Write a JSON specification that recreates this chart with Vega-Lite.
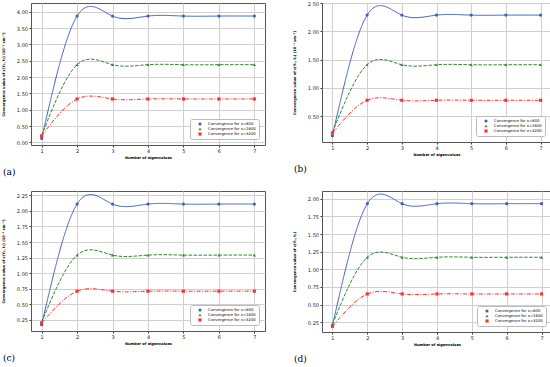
{
  "$schema": "https://vega.github.io/schema/vega-lite/v6.json",
  "padding": 0,
  "background": "white",
  "config": {
    "view": {"stroke": "#555555", "strokeWidth": 1},
    "font": "DejaVu Sans",
    "axis": {"labelFontSize": 5, "titleFontSize": 3.6, "titleFontWeight": "bold", "gridColor": "#d0d0d0", "gridWidth": 1, "domain": false, "tickSize": 2, "tickColor": "#333333", "labelColor": "#222222", "titleColor": "#000000", "labelPadding": 1.5, "titlePadding": 2},
    "legend": {"orient": "bottom-right", "offset": 6, "labelFontSize": 3.8, "symbolSize": 10, "strokeColor": "#bbbbbb", "fillColor": "white", "padding": 3, "rowPadding": 1, "cornerRadius": 2, "labelOffset": 6, "symbolOffset": 5, "symbolStrokeWidth": 0},
    "title": {"font": "DejaVu Serif", "fontSize": 9, "fontWeight": "normal", "orient": "bottom", "anchor": "start", "color": "#000000", "offset": 9}
  },
  "datasets": {
    "d": [
      {"p":"a","s":"Convergence for x=800","n":1,"v":0.12},{"p":"a","s":"Convergence for x=800","n":2,"v":3.87},{"p":"a","s":"Convergence for x=800","n":3,"v":3.87},{"p":"a","s":"Convergence for x=800","n":4,"v":3.87},{"p":"a","s":"Convergence for x=800","n":5,"v":3.87},{"p":"a","s":"Convergence for x=800","n":6,"v":3.87},{"p":"a","s":"Convergence for x=800","n":7,"v":3.87},
      {"p":"a","s":"Convergence for x=1600","n":1,"v":0.21},{"p":"a","s":"Convergence for x=1600","n":2,"v":2.38},{"p":"a","s":"Convergence for x=1600","n":3,"v":2.38},{"p":"a","s":"Convergence for x=1600","n":4,"v":2.38},{"p":"a","s":"Convergence for x=1600","n":5,"v":2.38},{"p":"a","s":"Convergence for x=1600","n":6,"v":2.38},{"p":"a","s":"Convergence for x=1600","n":7,"v":2.38},
      {"p":"a","s":"Convergence for x=3200","n":1,"v":0.2},{"p":"a","s":"Convergence for x=3200","n":2,"v":1.33},{"p":"a","s":"Convergence for x=3200","n":3,"v":1.33},{"p":"a","s":"Convergence for x=3200","n":4,"v":1.33},{"p":"a","s":"Convergence for x=3200","n":5,"v":1.33},{"p":"a","s":"Convergence for x=3200","n":6,"v":1.33},{"p":"a","s":"Convergence for x=3200","n":7,"v":1.33},
      {"p":"b","s":"Convergence for x=800","n":1,"v":0.15},{"p":"b","s":"Convergence for x=800","n":2,"v":2.29},{"p":"b","s":"Convergence for x=800","n":3,"v":2.29},{"p":"b","s":"Convergence for x=800","n":4,"v":2.29},{"p":"b","s":"Convergence for x=800","n":5,"v":2.29},{"p":"b","s":"Convergence for x=800","n":6,"v":2.29},{"p":"b","s":"Convergence for x=800","n":7,"v":2.29},
      {"p":"b","s":"Convergence for x=1600","n":1,"v":0.21},{"p":"b","s":"Convergence for x=1600","n":2,"v":1.41},{"p":"b","s":"Convergence for x=1600","n":3,"v":1.41},{"p":"b","s":"Convergence for x=1600","n":4,"v":1.41},{"p":"b","s":"Convergence for x=1600","n":5,"v":1.41},{"p":"b","s":"Convergence for x=1600","n":6,"v":1.41},{"p":"b","s":"Convergence for x=1600","n":7,"v":1.41},
      {"p":"b","s":"Convergence for x=3200","n":1,"v":0.2},{"p":"b","s":"Convergence for x=3200","n":2,"v":0.78},{"p":"b","s":"Convergence for x=3200","n":3,"v":0.78},{"p":"b","s":"Convergence for x=3200","n":4,"v":0.78},{"p":"b","s":"Convergence for x=3200","n":5,"v":0.78},{"p":"b","s":"Convergence for x=3200","n":6,"v":0.78},{"p":"b","s":"Convergence for x=3200","n":7,"v":0.78},
      {"p":"c","s":"Convergence for x=800","n":1,"v":0.17},{"p":"c","s":"Convergence for x=800","n":2,"v":2.11},{"p":"c","s":"Convergence for x=800","n":3,"v":2.11},{"p":"c","s":"Convergence for x=800","n":4,"v":2.11},{"p":"c","s":"Convergence for x=800","n":5,"v":2.11},{"p":"c","s":"Convergence for x=800","n":6,"v":2.11},{"p":"c","s":"Convergence for x=800","n":7,"v":2.11},
      {"p":"c","s":"Convergence for x=1600","n":1,"v":0.21},{"p":"c","s":"Convergence for x=1600","n":2,"v":1.29},{"p":"c","s":"Convergence for x=1600","n":3,"v":1.29},{"p":"c","s":"Convergence for x=1600","n":4,"v":1.29},{"p":"c","s":"Convergence for x=1600","n":5,"v":1.29},{"p":"c","s":"Convergence for x=1600","n":6,"v":1.29},{"p":"c","s":"Convergence for x=1600","n":7,"v":1.29},
      {"p":"c","s":"Convergence for x=3200","n":1,"v":0.2},{"p":"c","s":"Convergence for x=3200","n":2,"v":0.71},{"p":"c","s":"Convergence for x=3200","n":3,"v":0.71},{"p":"c","s":"Convergence for x=3200","n":4,"v":0.71},{"p":"c","s":"Convergence for x=3200","n":5,"v":0.71},{"p":"c","s":"Convergence for x=3200","n":6,"v":0.71},{"p":"c","s":"Convergence for x=3200","n":7,"v":0.71},
      {"p":"d","s":"Convergence for x=800","n":1,"v":0.2},{"p":"d","s":"Convergence for x=800","n":2,"v":1.93},{"p":"d","s":"Convergence for x=800","n":3,"v":1.93},{"p":"d","s":"Convergence for x=800","n":4,"v":1.93},{"p":"d","s":"Convergence for x=800","n":5,"v":1.93},{"p":"d","s":"Convergence for x=800","n":6,"v":1.93},{"p":"d","s":"Convergence for x=800","n":7,"v":1.93},
      {"p":"d","s":"Convergence for x=1600","n":1,"v":0.22},{"p":"d","s":"Convergence for x=1600","n":2,"v":1.17},{"p":"d","s":"Convergence for x=1600","n":3,"v":1.17},{"p":"d","s":"Convergence for x=1600","n":4,"v":1.17},{"p":"d","s":"Convergence for x=1600","n":5,"v":1.17},{"p":"d","s":"Convergence for x=1600","n":6,"v":1.17},{"p":"d","s":"Convergence for x=1600","n":7,"v":1.17},
      {"p":"d","s":"Convergence for x=3200","n":1,"v":0.19},{"p":"d","s":"Convergence for x=3200","n":2,"v":0.65},{"p":"d","s":"Convergence for x=3200","n":3,"v":0.65},{"p":"d","s":"Convergence for x=3200","n":4,"v":0.65},{"p":"d","s":"Convergence for x=3200","n":5,"v":0.65},{"p":"d","s":"Convergence for x=3200","n":6,"v":0.65},{"p":"d","s":"Convergence for x=3200","n":7,"v":0.65}
    ]
  },
  "columns": 2,
  "spacing": {"row": 12, "column": 25},
  "resolve": {"scale": {"x": "independent", "y": "independent", "color": "independent", "shape": "independent", "strokeDash": "independent"}, "legend": {"color": "independent", "shape": "independent"}},
  "concat": [
    {
      "width": 234, "height": 142,
      "title": {"text": "(a)", "dx": 2},
      "data": {"name": "d"},
      "transform": [{"filter": "datum.p === 'a'"}],
      "encoding": {
        "x": {"field": "n", "type": "quantitative", "scale": {"domain": [0.7, 7.3], "nice": false, "zero": false}, "axis": {"values": [1,2,3,4,5,6,7], "format": "d", "title": "Number of eigenvalues"}},
        "y": {"field": "v", "type": "quantitative", "scale": {"domain": [-0.08, 4.27], "nice": false, "zero": false}, "axis": {"values": [0,0.5,1,1.5,2,2.5,3,3.5,4], "format": ".2f", "title": "Convergence value of ε(Y₁, t₂) (10⁻³ sm⁻¹)", "minExtent": 24, "maxExtent": 24}},
        "color": {"field": "s", "type": "nominal", "scale": {"domain": ["Convergence for x=800","Convergence for x=1600","Convergence for x=3200"], "range": ["#3f5fbf","#2e8b2e","#ff3030"]}, "legend": {"title": null}}
      },
      "layer": [
        {"mark": {"type": "line", "interpolate": "natural", "strokeWidth": 1},
         "encoding": {
           "strokeDash": {"field": "s", "type": "nominal", "scale": {"domain": ["Convergence for x=800","Convergence for x=1600","Convergence for x=3200"], "range": [[1,0],[3.5,1.5],[4,1.5,1,1.5]]}, "legend": null}}},
        {"mark": {"type": "point", "filled": true, "size": 10, "opacity": 1},
         "encoding": {
           "shape": {"field": "s", "type": "nominal", "scale": {"domain": ["Convergence for x=800","Convergence for x=1600","Convergence for x=3200"], "range": ["circle","triangle-up","square"]}, "legend": {"title": null}}}}
      ]
    },
    {
      "width": 229, "height": 139,
      "title": {"text": "(b)", "dx": 2},
      "data": {"name": "d"},
      "transform": [{"filter": "datum.p === 'b'"}],
      "encoding": {
        "x": {"field": "n", "type": "quantitative", "scale": {"domain": [0.7, 7.3], "nice": false, "zero": false}, "axis": {"values": [1,2,3,4,5,6,7], "format": "d", "title": "Number of eigenvalues"}},
        "y": {"field": "v", "type": "quantitative", "scale": {"domain": [0.04, 2.505], "nice": false, "zero": false}, "axis": {"values": [0.5,1,1.5,2,2.5], "format": ".2f", "title": "Convergence value of ε(Y₁, t₂) (10⁻³ sm⁻¹)", "minExtent": 24, "maxExtent": 24}},
        "color": {"field": "s", "type": "nominal", "scale": {"domain": ["Convergence for x=800","Convergence for x=1600","Convergence for x=3200"], "range": ["#3f5fbf","#2e8b2e","#ff3030"]}, "legend": {"title": null}}
      },
      "layer": [
        {"mark": {"type": "line", "interpolate": "natural", "strokeWidth": 1},
         "encoding": {
           "strokeDash": {"field": "s", "type": "nominal", "scale": {"domain": ["Convergence for x=800","Convergence for x=1600","Convergence for x=3200"], "range": [[1,0],[3.5,1.5],[4,1.5,1,1.5]]}, "legend": null}}},
        {"mark": {"type": "point", "filled": true, "size": 10, "opacity": 1},
         "encoding": {
           "shape": {"field": "s", "type": "nominal", "scale": {"domain": ["Convergence for x=800","Convergence for x=1600","Convergence for x=3200"], "range": ["circle","triangle-up","square"]}, "legend": {"title": null}}}}
      ]
    },
    {
      "width": 234, "height": 140,
      "title": {"text": "(c)", "dx": 2},
      "data": {"name": "d"},
      "transform": [{"filter": "datum.p === 'c'"}],
      "encoding": {
        "x": {"field": "n", "type": "quantitative", "scale": {"domain": [0.7, 7.3], "nice": false, "zero": false}, "axis": {"values": [1,2,3,4,5,6,7], "format": "d", "title": "Number of eigenvalues"}},
        "y": {"field": "v", "type": "quantitative", "scale": {"domain": [0.07, 2.32], "nice": false, "zero": false}, "axis": {"values": [0.25,0.5,0.75,1,1.25,1.5,1.75,2,2.25], "format": ".2f", "title": "Convergence value of ε(Y₁, t₂) (10⁻³ sm⁻¹)", "minExtent": 24, "maxExtent": 24}},
        "color": {"field": "s", "type": "nominal", "scale": {"domain": ["Convergence for x=800","Convergence for x=1600","Convergence for x=3200"], "range": ["#3f5fbf","#2e8b2e","#ff3030"]}, "legend": {"title": null}}
      },
      "layer": [
        {"mark": {"type": "line", "interpolate": "natural", "strokeWidth": 1},
         "encoding": {
           "strokeDash": {"field": "s", "type": "nominal", "scale": {"domain": ["Convergence for x=800","Convergence for x=1600","Convergence for x=3200"], "range": [[1,0],[3.5,1.5],[4,1.5,1,1.5]]}, "legend": null}}},
        {"mark": {"type": "point", "filled": true, "size": 10, "opacity": 1},
         "encoding": {
           "shape": {"field": "s", "type": "nominal", "scale": {"domain": ["Convergence for x=800","Convergence for x=1600","Convergence for x=3200"], "range": ["circle","triangle-up","square"]}, "legend": {"title": null}}}}
      ]
    },
    {
      "width": 230, "height": 141,
      "title": {"text": "(d)", "dx": 2},
      "data": {"name": "d"},
      "transform": [{"filter": "datum.p === 'd'"}],
      "encoding": {
        "x": {"field": "n", "type": "quantitative", "scale": {"domain": [0.7, 7.3], "nice": false, "zero": false}, "axis": {"values": [1,2,3,4,5,6,7], "format": "d", "title": "Number of eigenvalues"}},
        "y": {"field": "v", "type": "quantitative", "scale": {"domain": [0.11, 2.11], "nice": false, "zero": false}, "axis": {"values": [0.25,0.5,0.75,1,1.25,1.5,1.75,2], "format": ".2f", "title": "Convergence value of ε(Y₁, t₂)", "minExtent": 24, "maxExtent": 24}},
        "color": {"field": "s", "type": "nominal", "scale": {"domain": ["Convergence for x=800","Convergence for x=1600","Convergence for x=3200"], "range": ["#3f5fbf","#2e8b2e","#ff3030"]}, "legend": {"title": null}}
      },
      "layer": [
        {"mark": {"type": "line", "interpolate": "natural", "strokeWidth": 1},
         "encoding": {
           "strokeDash": {"field": "s", "type": "nominal", "scale": {"domain": ["Convergence for x=800","Convergence for x=1600","Convergence for x=3200"], "range": [[1,0],[3.5,1.5],[4,1.5,1,1.5]]}, "legend": null}}},
        {"mark": {"type": "point", "filled": true, "size": 10, "opacity": 1},
         "encoding": {
           "shape": {"field": "s", "type": "nominal", "scale": {"domain": ["Convergence for x=800","Convergence for x=1600","Convergence for x=3200"], "range": ["circle","triangle-up","square"]}, "legend": {"title": null}}}}
      ]
    }
  ]
}
